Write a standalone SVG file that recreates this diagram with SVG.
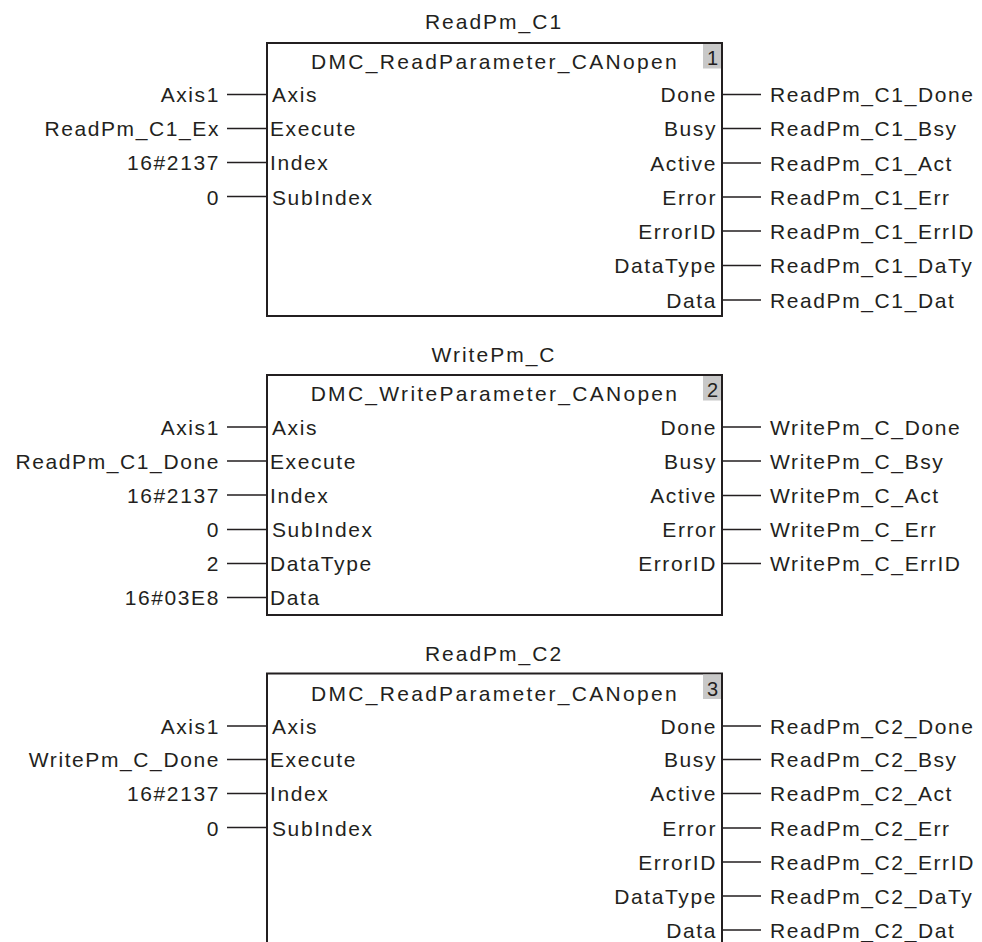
<svg xmlns="http://www.w3.org/2000/svg" width="982" height="942" viewBox="0 0 982 942">
<style>
text{font-family:"Liberation Sans",Arial,sans-serif;font-size:21px;fill:#231f20;letter-spacing:1.6px}
.e{text-anchor:end}
.m{text-anchor:middle}
.h{letter-spacing:2.3px}
.t{letter-spacing:2px}
.box{fill:#fff;stroke:#231f20;stroke-width:2}
.badge{fill:#c8c8c8}
.num{font-size:20px;letter-spacing:0;text-anchor:middle}
.w{stroke:#231f20;stroke-width:1.5;fill:none}
</style>
<rect width="982" height="942" fill="#fff"/>

<g id="block1">
<text class="m t" x="494" y="28.5">ReadPm_C1</text>
<rect class="box" x="267" y="43" width="455" height="273"/>
<rect class="badge" x="703" y="44" width="18" height="24.5"/>
<text class="num" x="712.5" y="65">1</text>
<text class="m h" x="495" y="68.5">DMC_ReadParameter_CANopen</text>
<text class="e" x="220" y="102">Axis1</text>
<text class="e" x="220" y="136">ReadPm_C1_Ex</text>
<text class="e" x="220" y="170">16#2137</text>
<text class="e" x="220" y="204.5">0</text>
<text x="272" y="102">Axis</text>
<text x="270" y="136">Execute</text>
<text x="270" y="170">Index</text>
<text x="272" y="204.5">SubIndex</text>
<text class="e" x="717" y="102">Done</text>
<text class="e" x="717" y="136">Busy</text>
<text class="e" x="717" y="170.5">Active</text>
<text class="e" x="717" y="204.5">Error</text>
<text class="e" x="717" y="238.5">ErrorID</text>
<text class="e" x="717" y="273">DataType</text>
<text class="e" x="717" y="307.5">Data</text>
<text x="770" y="102">ReadPm_C1_Done</text>
<text x="770" y="136">ReadPm_C1_Bsy</text>
<text x="770" y="170.5">ReadPm_C1_Act</text>
<text x="770" y="204.5">ReadPm_C1_Err</text>
<text x="770" y="238.5">ReadPm_C1_ErrID</text>
<text x="770" y="273">ReadPm_C1_DaTy</text>
<text x="770" y="307.5">ReadPm_C1_Dat</text>
</g>

<g id="block2">
<text class="m t" x="494" y="361.5">WritePm_C</text>
<rect class="box" x="267" y="375" width="455" height="240"/>
<rect class="badge" x="703" y="376" width="18" height="24.5"/>
<text class="num" x="712.5" y="397">2</text>
<text class="m h" x="495" y="400.5">DMC_WriteParameter_CANopen</text>
<text class="e" x="220" y="434.5">Axis1</text>
<text class="e" x="220" y="468.5">ReadPm_C1_Done</text>
<text class="e" x="220" y="502.5">16#2137</text>
<text class="e" x="220" y="537">0</text>
<text class="e" x="220" y="571">2</text>
<text class="e" x="220" y="605">16#03E8</text>
<text x="272" y="434.5">Axis</text>
<text x="270" y="468.5">Execute</text>
<text x="270" y="502.5">Index</text>
<text x="272" y="537">SubIndex</text>
<text x="270" y="571">DataType</text>
<text x="270" y="605">Data</text>
<text class="e" x="717" y="434.5">Done</text>
<text class="e" x="717" y="468.5">Busy</text>
<text class="e" x="717" y="503">Active</text>
<text class="e" x="717" y="537">Error</text>
<text class="e" x="717" y="571">ErrorID</text>
<text x="770" y="434.5">WritePm_C_Done</text>
<text x="770" y="468.5">WritePm_C_Bsy</text>
<text x="770" y="503">WritePm_C_Act</text>
<text x="770" y="537">WritePm_C_Err</text>
<text x="770" y="571">WritePm_C_ErrID</text>
</g>

<g id="block3">
<text class="m t" x="494" y="661">ReadPm_C2</text>
<rect class="box" x="267" y="673.5" width="455" height="290"/>
<rect class="badge" x="703" y="674.5" width="18" height="24.5"/>
<text class="num" x="712.5" y="695.5">3</text>
<text class="m h" x="495" y="701">DMC_ReadParameter_CANopen</text>
<text class="e" x="220" y="733.5">Axis1</text>
<text class="e" x="220" y="767">WritePm_C_Done</text>
<text class="e" x="220" y="801">16#2137</text>
<text class="e" x="220" y="835.5">0</text>
<text x="272" y="733.5">Axis</text>
<text x="270" y="767">Execute</text>
<text x="270" y="801">Index</text>
<text x="272" y="835.5">SubIndex</text>
<text class="e" x="717" y="733.5">Done</text>
<text class="e" x="717" y="767">Busy</text>
<text class="e" x="717" y="801">Active</text>
<text class="e" x="717" y="835.5">Error</text>
<text class="e" x="717" y="869.5">ErrorID</text>
<text class="e" x="717" y="903.5">DataType</text>
<text class="e" x="717" y="937.5">Data</text>
<text x="770" y="733.5">ReadPm_C2_Done</text>
<text x="770" y="767">ReadPm_C2_Bsy</text>
<text x="770" y="801">ReadPm_C2_Act</text>
<text x="770" y="835.5">ReadPm_C2_Err</text>
<text x="770" y="869.5">ReadPm_C2_ErrID</text>
<text x="770" y="903.5">ReadPm_C2_DaTy</text>
<text x="770" y="937.5">ReadPm_C2_Dat</text>
</g>

<g id="connectors" class="w">
<path class="w" d="M227 94.5H267M227 128.5H267M227 162.5H267M227 196.5H267
M722 94.5H761M722 128.5H761M722 163H761M722 197H761M722 231H761M722 265.5H761M722 300H761"/>
<path class="w" d="M227 427H267M227 461H267M227 495H267M227 529.5H267M227 563.5H267M227 597.5H267
M722 427H761M722 461H761M722 495.5H761M722 529.5H761M722 563.5H761"/>
<path class="w" d="M227 726H267M227 759.5H267M227 793.5H267M227 827.5H267
M722 726H761M722 759.5H761M722 793.5H761M722 828H761M722 862H761M722 896H761M722 930H761"/>
</g>
</svg>
